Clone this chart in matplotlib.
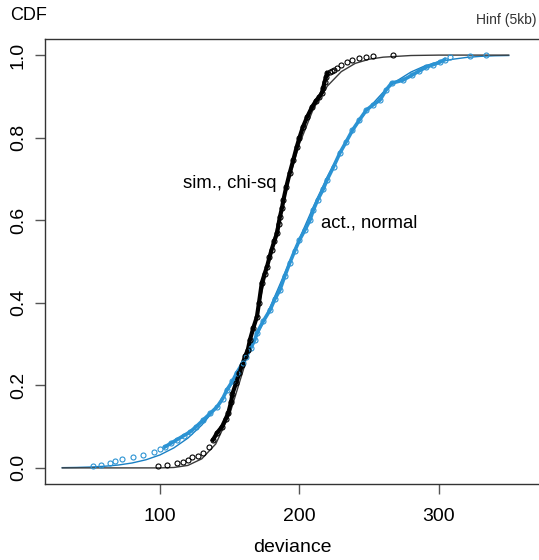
import matplotlib
matplotlib.use("Agg")
import matplotlib.pyplot as plt

plt.rcParams["font.family"] = ["Liberation Sans", "DejaVu Sans"]

# ------------------------------------------------------------
# data (deviance, cumulative fraction)
# ------------------------------------------------------------

# simulated, chi-sq : empirical points
sim_x = [98.6, 105, 112, 116.5, 120, 123, 127, 131, 135, 138, 141, 144.5, 147, 149,
         151, 152, 154.5, 157, 159, 161, 163, 164.5, 167, 169.5, 171, 173, 175, 176.7,
         178.5, 180, 182, 184, 185, 186, 187.5, 188.5, 190.5, 193, 195.5, 198, 200,
         202.5, 205.5, 209, 212, 214, 216, 217, 218, 219, 220, 222, 223, 225, 227, 230,
         234, 238, 243, 248, 253, 267]
sim_f = [0.005, 0.007, 0.012, 0.015, 0.02, 0.027, 0.03, 0.036, 0.05, 0.068, 0.085, 0.1,
         0.118, 0.133, 0.16, 0.18, 0.205, 0.23, 0.25, 0.27, 0.286, 0.31, 0.34, 0.366, 0.40,
         0.448, 0.47, 0.487, 0.51, 0.528, 0.55, 0.569, 0.59, 0.608, 0.63, 0.649, 0.68,
         0.714, 0.745, 0.777, 0.80, 0.826, 0.85, 0.874, 0.89, 0.898, 0.908, 0.92, 0.935,
         0.946, 0.956, 0.959, 0.962, 0.965, 0.968, 0.976, 0.983, 0.988, 0.993, 0.996,
         0.998, 1.0]

# simulated, chi-sq : fitted curve
sim_line_x = [30, 100, 110, 120, 130, 140, 150, 160, 170, 180, 190, 200, 210, 220,
              230, 240, 250, 260, 280, 300, 350]
sim_line_f = [0, 0, 0.001, 0.006, 0.022, 0.058, 0.13, 0.24, 0.38, 0.53, 0.67, 0.785,
              0.87, 0.925, 0.96, 0.98, 0.99, 0.995, 0.999, 1.0, 1.0]

# actual, normal : empirical points
act_x = [52, 58, 64, 68, 73, 80.6, 88, 96, 100, 103.6, 108, 112, 117, 121.5, 126, 131,
         136, 141, 145, 148, 152, 155, 159.5, 162, 165, 168, 169.5, 174, 179, 182.5, 186,
         189.5, 193, 196.5, 200, 204, 207.5, 210, 213, 217, 219.7, 224.5, 229, 233.5, 238,
         243, 248, 253, 257.7, 262, 266, 274, 281, 286, 291, 296, 300.7, 304, 308, 322, 333.7]
act_f = [0.005, 0.007, 0.012, 0.016, 0.022, 0.027, 0.031, 0.039, 0.045, 0.051, 0.06,
         0.068, 0.078, 0.087, 0.1, 0.116, 0.132, 0.148, 0.168, 0.189, 0.21, 0.23, 0.255,
         0.269, 0.29, 0.31, 0.327, 0.355, 0.383, 0.41, 0.431, 0.465, 0.496, 0.525, 0.552,
         0.577, 0.6, 0.625, 0.649, 0.675, 0.697, 0.73, 0.763, 0.79, 0.818, 0.843, 0.867,
         0.88, 0.891, 0.915, 0.932, 0.939, 0.952, 0.962, 0.971, 0.977, 0.983, 0.989,
         0.995, 0.998, 1.0]

# actual, normal : fitted curve
act_line_x = [30, 40, 50, 60, 70, 80, 90, 100, 110, 120, 130, 140, 150, 160, 170, 180,
              190, 200, 210, 220, 230, 240, 250, 260, 270, 280, 290, 300, 310, 320, 330,
              340, 350]
act_line_f = [0.0006, 0.0011, 0.0021, 0.0039, 0.0069, 0.0119, 0.0197, 0.0314, 0.0485,
              0.0721, 0.1038, 0.1446, 0.1949, 0.2546, 0.3228, 0.3974, 0.476, 0.5557,
              0.633, 0.7054, 0.770, 0.8264, 0.873, 0.9099, 0.938, 0.9591, 0.974, 0.9838,
              0.990, 0.9945, 0.997, 0.9984, 0.999]

x_ticks = [100, 200, 300]
y_ticks = [0.0, 0.2, 0.4, 0.6, 0.8, 1.0]

blue_line = "#1a80c4"
blue_pts = "#2b93d3"

# ------------------------------------------------------------
# plot
# ------------------------------------------------------------

fig = plt.figure(figsize=(5.39, 5.60), dpi=100)
ax = fig.add_axes([45 / 539, 76 / 560, 493 / 539, 445 / 560])

ax.plot(act_line_x, act_line_f, color=blue_line, lw=1.0, zorder=2)
ax.plot(sim_line_x, sim_line_f, color="#3a3a3a", lw=1.0, zorder=2)

# dense middle part of the empirical curves reads as a thick band
ax.plot(act_x[9:58], act_f[9:58], color=blue_pts, lw=2.6, zorder=3)
ax.plot(sim_x[9:51], sim_f[9:51], color="black", lw=3.0, zorder=3)

ax.plot(act_x, act_f, "o", ms=3.6, mfc="none", mec=blue_pts, mew=0.8, zorder=4)
ax.plot(sim_x, sim_f, "o", ms=3.6, mfc="none", mec="black", mew=0.8, zorder=4)

ax.text(150, 0.69, "sim., chi-sq", ha="center", va="center", fontsize=13.3)
ax.text(250, 0.593, "act., normal", ha="center", va="center", fontsize=13.3)

ax.set_xlim(17.6, 371)
ax.set_ylim(-0.039, 1.039)
ax.set_xticks(x_ticks)
ax.set_xticklabels([str(v) for v in x_ticks])
ax.set_yticks(y_ticks)
ax.set_yticklabels([f"{v:.1f}" for v in y_ticks], rotation=90, va="center")

for side in ["left", "bottom", "top"]:
    ax.spines[side].set_color("#333333")
    ax.spines[side].set_linewidth(1.0)
ax.spines["right"].set_visible(False)

ax.tick_params(axis="both", direction="out", length=7, width=1.0, color="#555555",
               labelsize=14)
ax.tick_params(axis="x", pad=10)
ax.tick_params(axis="y", pad=6)

fig.text(292 / 539, 1 - 547 / 560, "deviance", ha="center", va="center", fontsize=14)
fig.text(10 / 539, 1 - 16 / 560, "CDF", ha="left", va="center", fontsize=13)
fig.text(537 / 539, 1 - 20 / 560, "Hinf (5kb)", ha="right", va="center", fontsize=10,
         color="#333333")

fig.savefig("out.png", dpi=100)
